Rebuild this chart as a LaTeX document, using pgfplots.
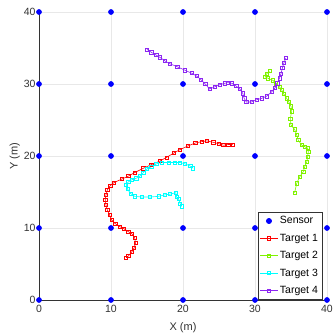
\documentclass[border=0pt]{standalone}
\usepackage{pgfplots}
\pgfplotsset{compat=1.18}
\usepackage{fontspec}
\setmainfont{Liberation Sans}
\definecolor{tred}{rgb}{1,0,0}
\definecolor{tgreen}{rgb}{0.5,0.95,0}
\definecolor{tcyan}{rgb}{0,1,1}
\definecolor{tpurple}{rgb}{0.55,0.15,0.95}
\definecolor{tblue}{rgb}{0,0,1}
\definecolor{axgray}{rgb}{0.2,0.2,0.2}
\begin{document}
\begin{tikzpicture}[x=1pt,y=1pt]
\useasboundingbox (-39pt,-36pt) rectangle (295pt,300pt);
\begin{axis}[
  at={(0,0)}, anchor=south west,
  scale only axis, width=288pt, height=288pt,
  xmin=0, xmax=40, ymin=0, ymax=40,
  xtick={0,10,20,30,40}, ytick={0,10,20,30,40},
  axis x line=bottom, axis y line=left,
  axis line style={axgray, -, line width=0.6pt},
  major tick length=0pt,
  grid=major, grid style={gray!18, line width=0.6pt},
  tick label style={font=\fontsize{10.5}{12}\selectfont, text=axgray},
  xticklabel style={yshift=-2pt},
  label style={font=\fontsize{11}{13}\selectfont, text=axgray},
  xlabel={X (m)}, ylabel={Y (m)},
  xlabel style={yshift=-3pt}, ylabel style={yshift=-3pt},
  /pgf/number format/assume math mode=true,
  clip=false,
  legend style={at={(0.983,0.003)}, anchor=south east, draw=axgray, font=\fontsize{10.5}{12}\selectfont, row sep=4.6pt, inner sep=2pt, cells={anchor=west}},
  legend image post style={line width=0.9pt},
  every axis plot/.append style={line width=0.6pt},
]
\addplot[only marks, mark=*, mark size=2.5pt, color=tblue, draw=tblue, fill=tblue] coordinates {
(0,0)(10,0)(20,0)(30,0)(40,0)
(0,10)(10,10)(20,10)(30,10)(40,10)
(0,20)(10,20)(20,20)(30,20)(40,20)
(0,30)(10,30)(20,30)(30,30)(40,30)
(0,40)(10,40)(20,40)(30,40)(40,40)
};
\addlegendentry{Sensor}
\addplot[color=tred, mark=square, mark size=1.6pt, mark options={solid}] coordinates {
(12.1,5.9)(12.4,6.1)(12.9,6.7)(13.2,7.2)(13.4,7.9)(13.3,8.6)(12.9,9.2)(12.4,9.5)(11.8,9.9)(11.2,10.2)(10.6,10.6)(10.1,11.1)(9.8,11.8)(9.5,12.5)(9.3,13.2)(9.2,13.9)(9.3,14.6)(9.5,15.3)(9.9,15.9)(10.4,16.3)(11.5,16.8)(12.4,17.2)(13.3,17.7)(14.5,18.3)(15.6,18.8)(16.8,19.3)(17.7,19.8)(18.7,20.4)(19.6,20.9)(20.7,21.4)(21.7,21.8)(22.6,22.0)(23.3,22.1)(24.2,21.9)(25.0,21.7)(25.6,21.5)(26.3,21.6)(26.9,21.6)
};
\addlegendentry{Target 1}
\addplot[color=tgreen, mark=square, mark size=1.6pt, mark options={solid}] coordinates {
(32.0,31.8)(31.6,31.4)(31.4,31.0)(31.8,30.8)(32.5,30.5)(32.9,30.1)(33.4,29.6)(33.7,29.2)(34.0,28.6)(34.4,28.0)(34.7,27.5)(35.0,26.9)(35.1,26.2)(34.9,25.2)(35.0,24.3)(35.5,23.7)(35.8,22.9)(36.0,22.2)(36.5,21.5)(36.9,21.3)(37.3,21.1)(37.4,20.6)(37.3,19.9)(37.2,19.2)(36.9,18.5)(36.7,17.8)(36.2,17.1)(35.8,16.2)(35.5,14.9)
};
\addlegendentry{Target 2}
\addplot[color=tcyan, mark=square, mark size=1.6pt, mark options={solid}] coordinates {
(19.8,13.0)(19.6,13.4)(19.4,14.0)(19.1,14.3)(19.0,14.9)(18.2,14.7)(17.5,14.6)(16.6,14.4)(15.4,14.3)(14.3,14.3)(13.3,14.4)(12.7,14.8)(12.3,15.4)(12.1,16.0)(12.4,16.4)(12.9,16.7)(13.5,16.9)(14.0,17.2)(14.5,17.7)(15.0,18.2)(15.6,18.5)(16.3,18.9)(17.0,19.1)(18.0,19.1)(18.9,19.1)(19.6,19.1)(20.3,18.9)(21.0,18.6)(21.4,18.3)
};
\addlegendentry{Target 3}
\addplot[color=tpurple, mark=square, mark size=1.6pt, mark options={solid}] coordinates {
(15.0,34.8)(15.6,34.4)(16.3,34.0)(16.8,33.7)(17.5,33.2)(18.2,32.8)(19.2,32.4)(20.3,31.9)(21.2,31.5)(21.9,31.1)(22.5,30.6)(23.1,30.0)(23.7,29.3)(24.4,29.6)(25.1,29.9)(25.8,30.1)(26.2,30.2)(26.8,30.1)(27.4,29.7)(27.9,29.3)(28.3,28.7)(28.5,28.0)(28.8,27.5)(29.5,27.5)(30.2,27.8)(30.9,28.0)(31.6,28.3)(32.3,28.9)(32.8,29.5)(33.1,30.1)(33.4,30.8)(33.6,31.4)(33.8,32.2)(34.0,32.9)(34.3,33.6)
};
\addlegendentry{Target 4}
\end{axis}
\end{tikzpicture}
\end{document}
